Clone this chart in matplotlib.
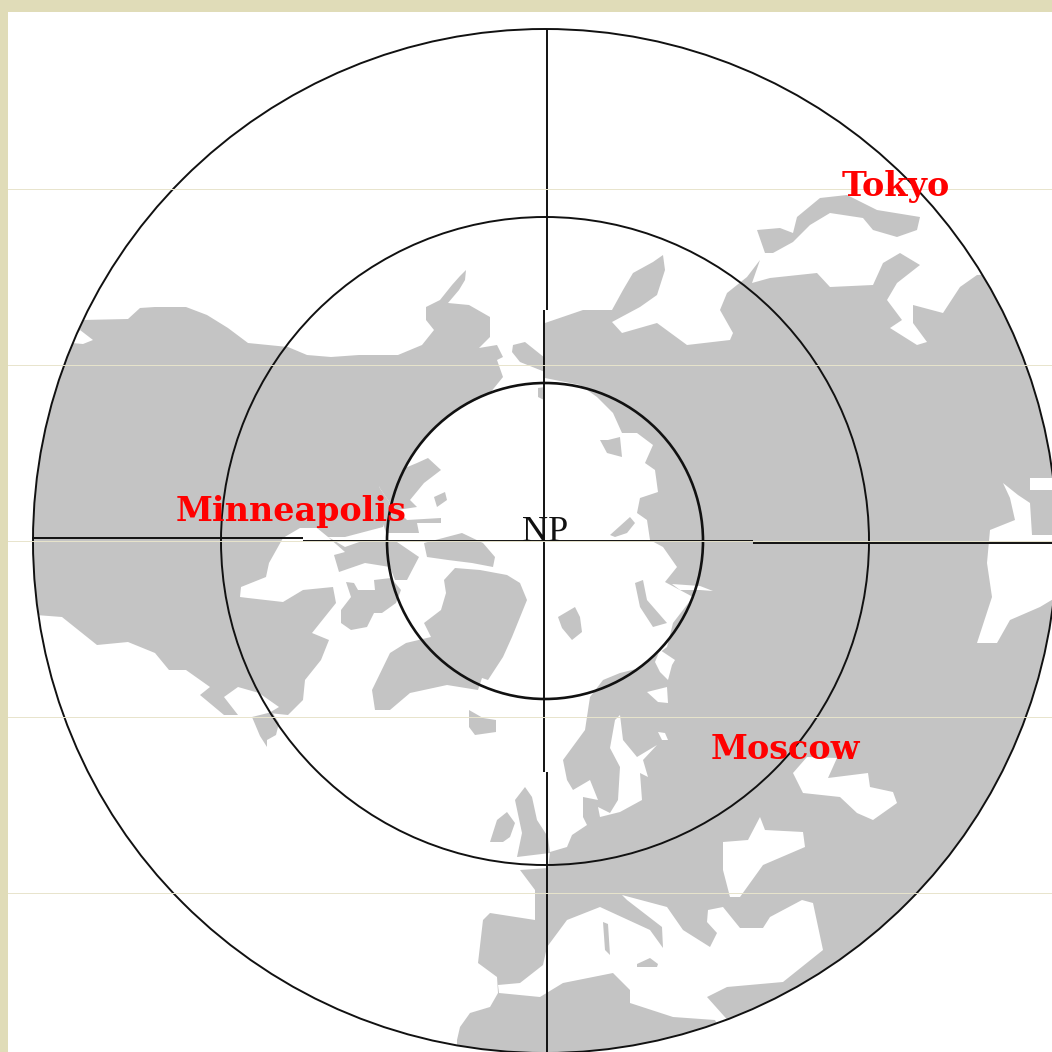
import matplotlib
matplotlib.use("Agg")
import matplotlib.pyplot as plt
from matplotlib.patches import Circle, Polygon, Rectangle

# everything is in picture pixels, the map has no real axes
ring_radii = [512, 324, 158]
band_rows = [189, 365, 541, 717, 893]

# land, traced by eye
north_america = [(0, 320), (83, 320), (128, 319), (140, 308), (155, 307), (186, 307), (207, 315), (228, 328),
                 (248, 343), (288, 347), (307, 355), (331, 357), (359, 355), (398, 355), (422, 345), (434, 330),
                 (426, 320), (426, 307), (440, 300), (452, 285), (460, 276), (466, 270), (465, 280), (459, 290),
                 (448, 303), (469, 305), (490, 317), (490, 337), (479, 348), (497, 345), (503, 357), (497, 360),
                 (503, 377), (490, 393), (460, 408), (436, 427), (416, 450), (400, 478), (379, 487), (390, 503),
                 (383, 527), (345, 537), (328, 537), (317, 528), (300, 528), (283, 538), (269, 563), (266, 577),
                 (241, 587), (240, 597), (248, 598), (283, 602), (303, 590), (333, 587), (336, 603), (312, 633),
                 (329, 640), (321, 660), (305, 680), (303, 700), (288, 715), (269, 713), (279, 707), (259, 693),
                 (238, 687), (224, 697), (238, 715), (224, 715), (200, 695), (210, 687), (186, 670), (169, 670),
                 (155, 653), (128, 642), (97, 645), (62, 617), (36, 615), (0, 615)]
central_america = [(252, 717), (272, 712), (279, 723), (276, 735), (267, 740), (267, 747), (260, 736)]
arctic_north = [(379, 487), (393, 473), (417, 463), (428, 458), (441, 470), (424, 483), (410, 500), (417, 507),
                (397, 510), (407, 520), (441, 518), (441, 523), (417, 523), (419, 533), (386, 533), (383, 523),
                (390, 503)]
arctic_west = [(328, 537), (345, 547), (365, 540), (397, 542), (419, 557), (407, 580), (395, 580), (390, 567),
               (365, 563), (339, 572), (334, 555), (345, 552)]
arctic_east = [(424, 543), (462, 533), (483, 543), (495, 557), (493, 567), (472, 563), (448, 560), (427, 557)]
arctic_small = [(434, 497), (445, 492), (447, 500), (437, 507)]
baffin = [(346, 582), (354, 583), (358, 590), (375, 590), (374, 580), (391, 578), (401, 590), (396, 603),
          (382, 613), (374, 613), (367, 627), (351, 630), (341, 623), (341, 610), (351, 597)]
greenland = [(444, 580), (455, 568), (480, 570), (507, 575), (520, 583), (527, 600), (512, 637), (503, 657),
             (488, 680), (482, 678), (478, 690), (447, 685), (410, 693), (390, 710), (375, 710), (372, 690),
             (390, 653), (406, 643), (431, 637), (424, 623), (441, 610), (446, 593)]
iceland = [(469, 710), (483, 718), (496, 720), (496, 732), (475, 735), (469, 727)]
britain = [(515, 800), (525, 787), (532, 797), (537, 820), (548, 837), (550, 853), (517, 857), (522, 833)]
ireland = [(490, 842), (497, 820), (507, 812), (515, 823), (510, 837), (503, 842)]
svalbard = [(558, 617), (575, 607), (580, 617), (582, 632), (572, 640), (562, 628)]
novaya_zemlya = [(635, 583), (643, 580), (647, 600), (667, 623), (653, 627), (640, 607)]
franz_josef = [(610, 535), (630, 517), (635, 523), (627, 533), (615, 537)]
banks_small = [(600, 440), (608, 440), (620, 437), (622, 457), (607, 453)]
bering_tip = [(513, 345), (525, 342), (545, 358), (545, 372), (535, 368), (520, 362), (512, 352)]
bering_lower = [(538, 388), (545, 387), (544, 400), (538, 397)]
japan_arc = [(757, 230), (780, 228), (793, 233), (797, 217), (820, 198), (847, 195), (877, 210), (920, 217),
             (917, 230), (897, 237), (873, 230), (863, 218), (830, 213), (810, 225), (793, 242), (773, 253),
             (765, 253)]
sardinia = [(603, 922), (608, 924), (610, 955), (605, 950)]
crete = [(637, 964), (650, 958), (658, 964), (657, 967), (637, 967)]

eurasia_north = [(545, 323), (583, 310), (612, 310), (623, 290), (633, 273), (653, 262), (663, 255), (665, 270),
                 (657, 295), (640, 307), (612, 322), (622, 333), (657, 323), (687, 345), (730, 340), (733, 333),
                 (720, 310), (727, 293), (747, 277), (760, 260), (752, 283), (770, 278), (817, 273), (830, 287),
                 (873, 285), (883, 263), (900, 253), (920, 265), (897, 283), (887, 300), (902, 320), (890, 328),
                 (917, 345), (927, 342), (913, 323), (913, 305), (943, 313), (960, 287), (977, 275), (1100, 270)]
eurasia_corner = [(1100, 1100), (457, 1100)]
eurasia_west = [(545, 378), (580, 385), (597, 397), (613, 413), (622, 433), (637, 433), (653, 445), (645, 463),
                (655, 470), (658, 492), (640, 498), (637, 513), (647, 520), (650, 540), (663, 547), (677, 567),
                (665, 582), (693, 597), (673, 623), (667, 647), (650, 660), (640, 668), (620, 673),
                (603, 680), (590, 697), (585, 730), (563, 760), (567, 780), (573, 790), (590, 780), (598, 800),
                (583, 797), (583, 817), (587, 825), (572, 835), (567, 847), (550, 852), (548, 868), (520, 870),
                (535, 890), (535, 920), (490, 913), (483, 920), (478, 963), (497, 977), (498, 993), (490, 1007),
                (470, 1013), (460, 1027), (457, 1040)]

# seas cut back out of the land
mediterranean = [(499, 993), (540, 997), (563, 983), (613, 973), (630, 990), (630, 1003), (673, 1017), (715, 1020),
                 (720, 1030), (732, 1025), (707, 997), (727, 987), (783, 982), (823, 950), (813, 903), (802, 900),
                 (770, 917), (763, 928), (740, 928), (723, 907), (708, 910), (707, 922), (717, 933), (710, 947),
                 (683, 930), (667, 907), (622, 895), (627, 900), (662, 927), (663, 948), (650, 930), (600, 907),
                 (567, 920), (547, 947), (543, 965), (520, 983), (498, 985)]
black_sea = [(723, 842), (748, 840), (760, 817), (765, 830), (803, 832), (805, 847), (763, 865), (740, 897),
             (730, 897), (723, 870)]
caspian = [(793, 773), (803, 793), (840, 797), (857, 813), (873, 820), (897, 803), (893, 792), (870, 787),
           (868, 773), (828, 778), (837, 758), (807, 757)]
baltic = [(620, 715), (623, 740), (637, 757), (657, 745), (643, 760), (648, 777), (640, 773), (642, 800),
          (620, 812), (600, 817), (598, 807), (610, 813), (618, 800), (620, 767), (610, 748), (615, 720)]
white_sea = [(647, 692), (667, 687), (668, 703), (658, 702)]
ladoga = [(658, 732), (665, 733), (668, 740), (662, 740)]
kara_slivers = [(660, 650), (675, 660), (672, 665), (668, 680), (660, 672), (655, 662)]
ob_sliver = [(672, 584), (700, 586), (713, 591), (700, 590), (680, 590)]
indian_ocean = [(1003, 483), (1018, 495), (1030, 503), (1032, 535), (1060, 535), (1060, 595), (1040, 607),
                (1010, 620), (997, 643), (977, 643), (992, 597), (987, 563), (990, 530), (1015, 520), (1010, 498)]
bay_of_bengal = [(1030, 478), (1052, 478), (1052, 490), (1030, 490)]
gulf_notch = [(72, 343), (80, 330), (93, 340), (83, 344)]

land_shapes = [north_america, central_america, arctic_north, arctic_west, arctic_east, arctic_small, baffin,
               greenland, iceland, britain, ireland, svalbard, novaya_zemlya, franz_josef, banks_small,
               bering_tip, bering_lower, japan_arc, eurasia_north + eurasia_corner + eurasia_west[::-1]]
sea_shapes = [mediterranean, black_sea, caspian, baltic, white_sea, ladoga, kara_slivers, ob_sliver,
              indian_ocean, bay_of_bengal, gulf_notch]
island_shapes = [sardinia, crete]

# grid lines are slightly offset between their pieces in the original
horizontal_parts = [(32, 303, 538), (303, 753, 541), (753, 1052, 543)]
vertical_parts = [(547, 29, 310), (544, 310, 772), (547, 772, 1052)]

city_names = ["Tokyo", "Minneapolis", "Moscow"]
city_spots = [(842, 196), (176, 521), (711, 759)]

fig = plt.figure(figsize=(10.52, 10.52), dpi=100, facecolor="#E0DCB8")
ax = fig.add_axes([0, 0, 1, 1])
ax.set_xlim(0, 1052)
ax.set_ylim(1052, 0)
ax.axis("off")

ax.add_patch(Rectangle((8, 12), 1044, 1040, fc="white", ec="none", zorder=1))
clip = Circle((545, 541), ring_radii[0], transform=ax.transData)
for shape in land_shapes:
    p = Polygon(shape, closed=True, fc="#C4C4C4", ec="none", zorder=2)
    ax.add_patch(p)
    p.set_clip_path(clip)
for shape in sea_shapes:
    p = Polygon(shape, closed=True, fc="white", ec="none", zorder=3)
    ax.add_patch(p)
    p.set_clip_path(clip)
for shape in island_shapes:
    ax.add_patch(Polygon(shape, closed=True, fc="#C4C4C4", ec="none", zorder=4))

for r in ring_radii:
    lw = 1.9 if r == ring_radii[2] else 1.4
    ax.add_patch(Circle((545, 541), r, fc="none", ec="#111111", lw=lw, zorder=5))
for x0, x1, y in horizontal_parts:
    ax.plot([x0, x1], [y, y], color="#111111", lw=1.4, zorder=5, solid_capstyle="butt")
for x, y0, y1 in vertical_parts:
    ax.plot([x, x], [y0, y1], color="#111111", lw=1.4, zorder=5, solid_capstyle="butt")

for row in band_rows:
    ax.plot([8, 1052], [row, row], color="#E8E4CC", lw=0.7, zorder=6)

for name, (x, y) in zip(city_names, city_spots):
    ax.text(x, y, name, color="#FF0000", family="DejaVu Serif", weight="bold", fontsize=24,
            ha="left", va="baseline", zorder=7)
ax.text(545, 541, "NP", color="#111111", family="Liberation Serif", fontsize=26, ha="center", va="baseline", zorder=7)

fig.savefig("out.png", dpi=100)
